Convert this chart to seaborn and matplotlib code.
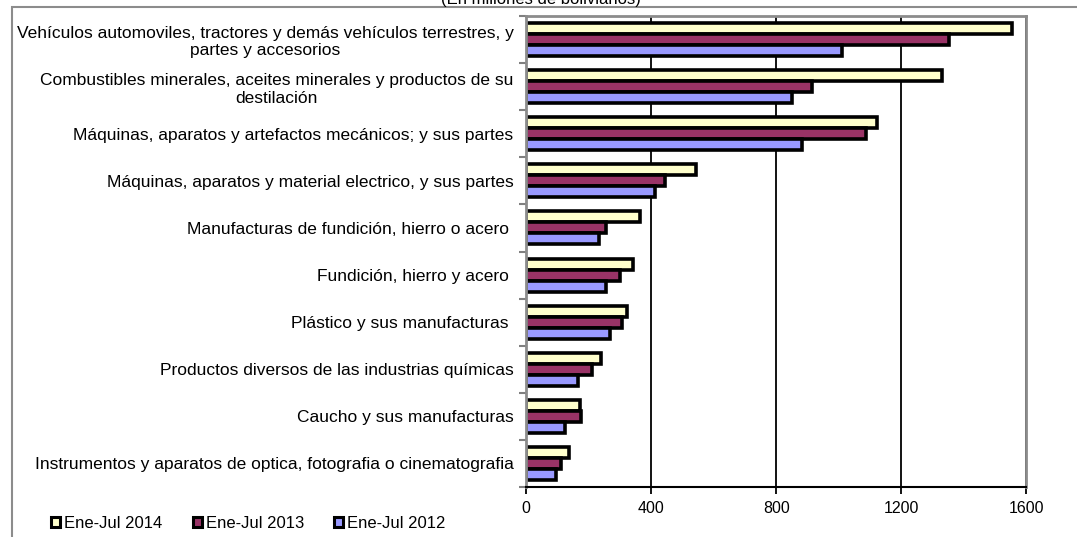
import matplotlib
matplotlib.use("Agg")
import matplotlib.pyplot as plt
from matplotlib.patches import Rectangle
import seaborn as sns
import pandas as pd

categories = [
    "Vehículos automoviles, tractores y demás vehículos terrestres, y\npartes y accesorios",
    "Combustibles minerales, aceites minerales y productos de su\ndestilación",
    "Máquinas, aparatos y artefactos mecánicos; y sus partes",
    "Máquinas, aparatos y material electrico, y sus partes",
    "Manufacturas de fundición, hierro o acero ",
    "Fundición, hierro y acero ",
    "Plástico y sus manufacturas ",
    "Productos diversos de las industrias químicas",
    "Caucho y sus manufacturas",
    "Instrumentos y aparatos de optica, fotografia o cinematografia",
]
periods = ["Ene-Jul 2014", "Ene-Jul 2013", "Ene-Jul 2012"]
v2014 = [1554, 1330, 1122, 543, 366, 342, 322, 240, 172, 138]
v2013 = [1351, 914, 1087, 443, 255, 299, 308, 211, 175, 113]
v2012 = [1010, 850, 882, 413, 234, 257, 267, 166, 125, 96]
colors = ["#FFFFCC", "#993366", "#9999FF"]

df = pd.DataFrame({
    "cat": categories * 3,
    "period": [periods[0]] * 10 + [periods[1]] * 10 + [periods[2]] * 10,
    "val": v2014 + v2013 + v2012,
})

sns.set_style("white", rc={"text.color": "black", "xtick.color": "black",
                           "ytick.color": "black", "axes.labelcolor": "black"})
plt.rcParams["font.family"] = ["Liberation Sans", "DejaVu Sans"]

fig = plt.figure(figsize=(10.77, 5.37), dpi=100)
ax = fig.add_axes([0.4884, 0.0931, 0.4647, 0.8771])

sns.barplot(data=df, y="cat", x="val", hue="period", orient="h",
            palette=colors, width=0.7, edgecolor="black", linewidth=2.6,
            saturation=1, ax=ax, legend=False)

ax.set_xlim(0, 1600)
ax.set_ylim(9.5, -0.5)
ax.set_xticks([0, 400, 800, 1200, 1600])
ax.set_xticklabels(["0", "400", "800", "1200", "1600"], fontsize=11.5)
ax.set_xlabel("")
ax.set_ylabel("")
ax.grid(axis="x", color="black", linewidth=1.3)
ax.set_axisbelow(True)

ax.tick_params(axis="y", which="major", length=0, pad=9, labelsize=12.5, labelcolor="black")
for t in ax.get_yticklabels():
    t.set_multialignment("center")
ax.set_yticks([i - 0.5 for i in range(11)], minor=True)
ax.tick_params(axis="y", which="minor", length=5, width=1.5, color="#808080", left=True)
ax.tick_params(axis="x", length=5, width=1.3, color="black", bottom=True, pad=5,
               labelcolor="black")

for side in ["left", "right", "top"]:
    ax.spines[side].set_color("#8c8c8c")
    ax.spines[side].set_linewidth(2)
ax.spines["bottom"].set_color("black")
ax.spines["bottom"].set_linewidth(1.5)

handles = [Rectangle((0, 0), 1, 1, facecolor=c, edgecolor="black", linewidth=2.2) for c in colors]
fig.legend(handles, periods, loc="center left", bbox_to_anchor=(0.0396, 0.026),
           ncol=3, frameon=False, fontsize=12, handlelength=0.55, handleheight=0.55,
           handletextpad=0.25, columnspacing=1.8, borderpad=0)

fig.add_artist(Rectangle((12 / 1077, -0.1), 1.2, 1.1 - 7 / 537, transform=fig.transFigure,
                         facecolor="none", edgecolor="#8c8c8c", linewidth=1.5))
fig.text(541 / 1077, 1 - 4 / 537, "(En millones de bolivianos)", ha="center",
         va="baseline", fontsize=12)

fig.savefig("out.png", dpi=100)
